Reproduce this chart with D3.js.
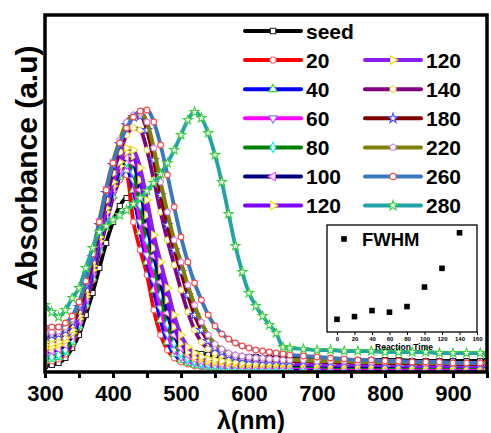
<!DOCTYPE html>
<html>
<head>
<meta charset="utf-8">
<script src="https://cdn.jsdelivr.net/npm/d3@7"></script>
<style>
  body { margin: 0; background: #fff; }
  text { font-family: "Liberation Sans", Arial, sans-serif; font-weight: bold; }
</style>
</head>
<body>
<script>
// wavelength grid (nm) shared by all spectra
const wavelengths = [300,310,320,330,340,350,360,370,380,390,400,410,420,430,440,450,460,470,480,490,500,510,520,530,540,550,560,570,580,590,600,610,620,630,640,650,660,680,700,720,740,760,780,800,820,840,860,880,900,920,940,950];

// absorbance
const seed  = [0.06,0.07,0.09,0.14,0.24,0.37,0.57,0.79,1.04,1.29,1.50,1.66,1.74,1.70,1.47,1.14,0.82,0.57,0.40,0.30,0.24,0.21,0.19,0.18,0.17,0.17,0.16,0.16,0.15,0.15,0.15,0.15,0.14,0.14,0.14,0.14,0.13,0.13,0.13,0.13,0.12,0.12,0.12,0.12,0.12,0.11,0.11,0.11,0.11,0.11,0.11,0.11];
const t20   = [0.10,0.11,0.13,0.18,0.28,0.44,0.66,0.92,1.20,1.48,1.74,1.92,1.97,1.50,1.22,0.97,0.62,0.37,0.22,0.14,0.10,0.08,0.06,0.05,0.05,0.04,0.04,0.04,0.03,0.03,0.03,0.03,0.03,0.03,0.03,0.03,0.03,0.03,0.03,0.02,0.02,0.02,0.02,0.02,0.02,0.02,0.02,0.02,0.02,0.02,0.02,0.02];
const t40   = [0.12,0.13,0.15,0.20,0.30,0.46,0.68,0.94,1.22,1.50,1.76,1.95,2.02,1.82,1.40,1.10,0.82,0.52,0.30,0.18,0.12,0.09,0.07,0.06,0.05,0.05,0.04,0.04,0.04,0.04,0.04,0.04,0.04,0.04,0.04,0.04,0.04,0.04,0.04,0.03,0.03,0.03,0.03,0.03,0.03,0.03,0.03,0.03,0.03,0.03,0.03,0.03];
const t60   = [0.16,0.17,0.19,0.24,0.33,0.48,0.70,0.96,1.24,1.53,1.79,1.98,2.07,1.92,1.50,1.17,0.92,0.64,0.38,0.22,0.15,0.11,0.09,0.07,0.06,0.06,0.05,0.05,0.05,0.05,0.05,0.05,0.05,0.05,0.05,0.05,0.05,0.05,0.05,0.04,0.04,0.04,0.04,0.04,0.04,0.04,0.04,0.04,0.04,0.04,0.04,0.04];
const t80   = [0.14,0.15,0.17,0.22,0.32,0.48,0.71,0.98,1.26,1.55,1.81,2.00,2.10,2.00,1.67,1.32,1.07,0.77,0.48,0.29,0.19,0.14,0.11,0.09,0.08,0.07,0.07,0.06,0.06,0.06,0.06,0.06,0.06,0.06,0.06,0.06,0.06,0.06,0.06,0.05,0.05,0.05,0.05,0.05,0.05,0.05,0.05,0.05,0.05,0.05,0.05,0.05];
const t100  = [0.20,0.21,0.23,0.27,0.36,0.51,0.73,1.00,1.28,1.57,1.83,2.02,2.14,2.09,1.82,1.47,1.16,0.90,0.59,0.37,0.24,0.17,0.13,0.11,0.10,0.09,0.08,0.08,0.07,0.07,0.07,0.07,0.07,0.07,0.07,0.07,0.07,0.07,0.07,0.06,0.06,0.06,0.06,0.06,0.06,0.06,0.06,0.06,0.06,0.06,0.06,0.06];
const t120  = [0.24,0.25,0.27,0.31,0.39,0.53,0.75,1.02,1.31,1.60,1.86,2.06,2.20,2.16,1.92,1.57,1.24,1.02,0.72,0.45,0.29,0.20,0.15,0.13,0.11,0.10,0.10,0.09,0.09,0.08,0.08,0.08,0.08,0.08,0.08,0.08,0.08,0.08,0.07,0.07,0.07,0.07,0.07,0.07,0.07,0.06,0.06,0.06,0.06,0.06,0.06,0.06];
const t120b = [0.27,0.28,0.30,0.34,0.42,0.56,0.78,1.06,1.35,1.64,1.90,2.10,2.24,2.22,2.04,1.72,1.37,1.10,0.84,0.57,0.37,0.25,0.19,0.15,0.13,0.12,0.11,0.10,0.10,0.09,0.09,0.09,0.09,0.09,0.09,0.09,0.09,0.09,0.08,0.08,0.08,0.08,0.08,0.07,0.07,0.07,0.07,0.07,0.07,0.07,0.07,0.07];
const t140  = [0.32,0.33,0.35,0.39,0.47,0.61,0.82,1.10,1.42,1.72,1.99,2.20,2.37,2.44,2.42,2.22,1.92,1.60,1.32,1.07,0.82,0.60,0.42,0.30,0.23,0.19,0.17,0.15,0.14,0.13,0.13,0.12,0.12,0.12,0.11,0.11,0.11,0.11,0.10,0.10,0.10,0.09,0.09,0.09,0.09,0.09,0.08,0.08,0.08,0.08,0.08,0.08];
const t180  = [0.36,0.37,0.38,0.42,0.50,0.65,0.87,1.15,1.47,1.79,2.07,2.28,2.47,2.55,2.56,2.42,2.12,1.77,1.47,1.22,1.00,0.77,0.57,0.42,0.31,0.24,0.20,0.17,0.15,0.14,0.13,0.13,0.12,0.12,0.12,0.11,0.11,0.11,0.11,0.10,0.10,0.10,0.10,0.09,0.09,0.09,0.09,0.09,0.09,0.08,0.08,0.08];
const t220  = [0.39,0.40,0.41,0.45,0.53,0.68,0.90,1.19,1.52,1.84,2.11,2.32,2.50,2.57,2.59,2.50,2.24,1.90,1.60,1.32,1.10,0.87,0.67,0.50,0.37,0.28,0.23,0.19,0.17,0.16,0.15,0.14,0.14,0.13,0.13,0.12,0.12,0.12,0.11,0.11,0.11,0.10,0.10,0.10,0.10,0.10,0.09,0.09,0.09,0.09,0.09,0.09];
const t260  = [0.44,0.45,0.45,0.49,0.56,0.70,0.91,1.18,1.50,1.82,2.09,2.29,2.44,2.55,2.61,2.62,2.50,2.27,1.97,1.65,1.35,1.10,0.89,0.72,0.57,0.46,0.38,0.33,0.29,0.26,0.24,0.22,0.21,0.20,0.19,0.18,0.17,0.16,0.15,0.14,0.13,0.12,0.12,0.11,0.11,0.10,0.10,0.10,0.09,0.09,0.09,0.09];
const t280  = [0.67,0.60,0.55,0.62,0.74,0.84,1.04,1.24,1.40,1.46,1.52,1.57,1.62,1.68,1.74,1.81,1.89,1.98,2.09,2.22,2.37,2.52,2.60,2.54,2.39,2.17,1.90,1.58,1.26,1.00,0.79,0.66,0.56,0.47,0.39,0.25,0.24,0.23,0.22,0.22,0.21,0.21,0.21,0.20,0.20,0.20,0.20,0.19,0.19,0.19,0.19,0.19];

const seriesLabels = ["seed","20","40","60","80","100","120","120","140","180","220","260","280"];
const seriesValues = [seed,t20,t40,t60,t80,t100,t120,t120b,t140,t180,t220,t260,t280];

const xTicks = [300,400,500,600,700,800,900];
const xMinorTicks = [350,450,550,650,750,850,950];

// inset: FWHM vs reaction time
const reactionTime = [0,20,40,60,80,100,120,140];
const fwhm = [49.5,51.5,56.0,54.8,59.0,73.6,87.6,114.2];
const insetTicks = [0,20,40,60,80,100,120,140,160];

function polygon(n) {
  return {
    draw(ctx, size) {
      const r = Math.sqrt(size / (0.5 * n * Math.sin(2 * Math.PI / n)));
      for (let i = 0; i < n; i++) {
        const a = -Math.PI / 2 + i * 2 * Math.PI / n;
        if (i == 0) ctx.moveTo(r * Math.cos(a), r * Math.sin(a));
        else ctx.lineTo(r * Math.cos(a), r * Math.sin(a));
      }
      ctx.closePath();
    }
  };
}

// line colour, marker type, marker rotation, marker stroke
const styles = [
  { c: "#000000", m: d3.symbolSquare,   rot: 0,   ms: "#222" },
  { c: "#ff0000", m: d3.symbolCircle,   rot: 0,   ms: "#ff6a6a" },
  { c: "#0000ff", m: d3.symbolTriangle, rot: 0,   ms: "#3ad23a" },
  { c: "#ff00ff", m: d3.symbolTriangle, rot: 180, ms: "#8080ff" },
  { c: "#008000", m: d3.symbolDiamond,  rot: 0,   ms: "#00e8e8" },
  { c: "#000080", m: d3.symbolTriangle, rot: -90, ms: "#ff40ff" },
  { c: "#8000ff", m: d3.symbolTriangle, rot: 90,  ms: "#f2e000" },
  { c: "#8a20f0", m: d3.symbolTriangle, rot: 90,  ms: "#f2e000" },
  { c: "#800080", m: polygon(6),        rot: 0,   ms: "#e0dc40" },
  { c: "#800000", m: d3.symbolStar,     rot: 0,   ms: "#4a4aff" },
  { c: "#808000", m: polygon(5),        rot: 0,   ms: "#d080f0" },
  { c: "#3a78c0", m: d3.symbolCircle,   rot: 0,   ms: "#ff4848" },
  { c: "#22a3a8", m: d3.symbolStar,     rot: 0,   ms: "#3ad23a" }
];

const W = 491, H = 433;
const svg = d3.select("body").append("svg").attr("width", W).attr("height", H);

const x = d3.scaleLinear().domain([300, 950]).range([45, 487]);
const y = d3.scaleLinear().domain([0, 3.58]).range([372, 14]);

svg.append("defs").append("clipPath").attr("id", "clip")
  .append("rect").attr("x", 45).attr("y", 15).attr("width", 442).attr("height", 357);

const plot = svg.append("g").attr("clip-path", "url(#clip)");

const line = d3.line()
  .x(d => x(d[0]))
  .y(d => y(d[1]))
  .curve(d3.curveMonotoneX);

function marker(g, st, px, py, size) {
  g.append("path")
    .attr("d", d3.symbol().type(st.m).size(size)())
    .attr("transform", "translate(" + px + "," + py + ") rotate(" + st.rot + ")")
    .attr("fill", "#fff")
    .attr("stroke", st.ms)
    .attr("stroke-width", 1.1);
}

seriesValues.forEach((vals, i) => {
  const st = styles[i];
  const pts = wavelengths.map((w, j) => [w, vals[j]]);
  const g = plot.append("g");
  g.append("path")
    .attr("d", line(pts))
    .attr("fill", "none")
    .attr("stroke", st.c)
    .attr("stroke-width", 3.8);
  pts.forEach(p => marker(g, st, x(p[0]), y(p[1]), 26));
});

// bottom axis
const axis = svg.append("g").attr("transform", "translate(0,372)")
  .call(d3.axisBottom(x).tickValues(xTicks).tickSize(6).tickPadding(7).tickSizeOuter(0));
axis.select(".domain").remove();
axis.selectAll(".tick line").attr("stroke", "#000").attr("stroke-width", 3);
axis.selectAll(".tick text").attr("font-size", 22).attr("fill", "#000")
  .style("font-family", '"Liberation Sans", Arial, sans-serif').style("font-weight", "bold");
svg.append("g").attr("transform", "translate(0,372)")
  .call(d3.axisBottom(x).tickValues(xMinorTicks).tickSize(6).tickFormat("").tickSizeOuter(0))
  .call(g => g.select(".domain").remove())
  .selectAll(".tick line").attr("stroke", "#000").attr("stroke-width", 3);

// frame
svg.append("rect")
  .attr("x", 45).attr("y", 15).attr("width", 442).attr("height", 357)
  .attr("fill", "none").attr("stroke", "#000").attr("stroke-width", 3.5);

// axis titles
svg.append("text")
  .attr("transform", "translate(37,168) rotate(-90)")
  .attr("text-anchor", "middle")
  .attr("font-size", 30)
  .text("Absorbance (a.u)");
svg.append("text")
  .attr("x", 251).attr("y", 429)
  .attr("text-anchor", "middle")
  .attr("font-size", 25)
  .text("λ(nm)");

// legend
const legend = svg.append("g");
seriesLabels.forEach((lab, i) => {
  const col = i < 7 ? 0 : 1;
  const row = i < 7 ? i : i - 6;
  const x0 = col == 0 ? 245 : 365;
  const yy = 31 + row * 29.1;
  legend.append("line")
    .attr("x1", x0).attr("x2", x0 + 56).attr("y1", yy).attr("y2", yy)
    .attr("stroke", styles[i].c).attr("stroke-width", 4).attr("stroke-linecap", "round");
  marker(legend, styles[i], x0 + 28, yy, 30);
  legend.append("text")
    .attr("x", x0 + 61).attr("y", yy).attr("dy", "0.36em")
    .attr("font-size", 21)
    .text(lab);
});

// inset
const ix = d3.scaleLinear().domain([-11.4, 160]).range([327, 477]);
const iy = d3.scaleLinear().domain([40, 120]).range([332, 225]);
const inset = svg.append("g");
inset.append("rect")
  .attr("x", 327).attr("y", 225).attr("width", 150).attr("height", 107)
  .attr("fill", "none").attr("stroke", "#000").attr("stroke-width", 1.3);
const iaxis = inset.append("g").attr("transform", "translate(0,332)")
  .call(d3.axisBottom(ix).tickValues(insetTicks).tickSize(3).tickPadding(1.5).tickSizeOuter(0));
iaxis.select(".domain").remove();
iaxis.selectAll(".tick line").attr("stroke", "#000").attr("stroke-width", 1);
iaxis.selectAll(".tick text").attr("font-size", 6).attr("fill", "#000")
  .style("font-family", '"Liberation Sans", Arial, sans-serif').style("font-weight", "bold");
inset.append("text")
  .attr("x", 404).attr("y", 349.5)
  .attr("text-anchor", "middle")
  .attr("font-size", 8.5)
  .text("Reaction Time");
inset.selectAll("rect.pt").data(reactionTime).join("rect")
  .attr("class", "pt")
  .attr("x", (d, i) => ix(d) - 2.8)
  .attr("y", (d, i) => iy(fwhm[i]) - 2.8)
  .attr("width", 5.6).attr("height", 5.6)
  .attr("fill", "#000");
inset.append("rect")
  .attr("x", 341.2).attr("y", 236.2).attr("width", 5.6).attr("height", 5.6).attr("fill", "#000");
inset.append("text")
  .attr("x", 362).attr("y", 245.5)
  .attr("font-size", 18.5)
  .text("FWHM");
</script>
</body>
</html>
